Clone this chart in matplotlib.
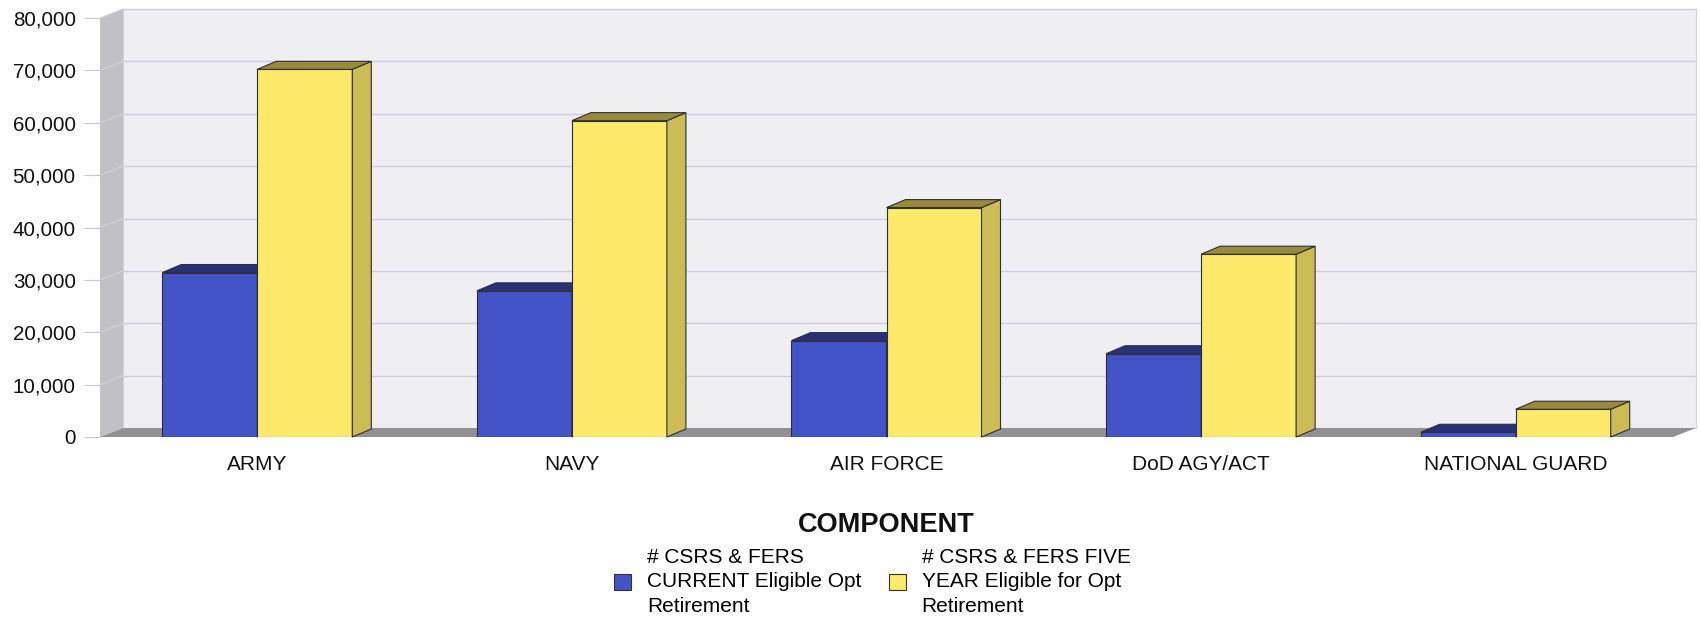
import matplotlib.pyplot as plt
from matplotlib.patches import Polygon, Patch

plt.rcParams['font.family'] = ['Liberation Sans', 'DejaVu Sans']

components = ["ARMY", "NAVY", "AIR FORCE", "DoD AGY/ACT", "NATIONAL GUARD"]
current_eligible = [31400, 27900, 18400, 15900, 900]
five_year_eligible = [70200, 60400, 43800, 34900, 5300]
series_labels = ["# CSRS & FERS\nCURRENT Eligible Opt\nRetirement",
                 "# CSRS & FERS FIVE\nYEAR Eligible for Opt\nRetirement"]
y_ticks = list(range(0, 80001, 10000))

blue, blue_top = '#4353c8', '#283078'
yellow, yellow_top, yellow_side = '#fde96a', '#9a8a3c', '#cbbc55'
edge = '#2e2e3a'

W, H = 1700, 617
fig = plt.figure(figsize=(W / 100, H / 100), dpi=100)
left, right, bottom, top = 100, 1673, 437, 18
ax = fig.add_axes([left / W, 1 - bottom / H, (right - left) / W, (bottom - top) / H])
ax.set_xlim(-0.5, len(components) - 0.5)
ax.set_ylim(0, 80000)

# pixel offsets -> data units for the fake 3d depth
px_x = len(components) / (right - left)
px_y = 80000 / (bottom - top)
wx, wy = 23 * px_x, 9 * px_y   # walls
bx, by = 19 * px_x, 8 * px_y   # bars

x0, x1, ymax = -0.5, len(components) - 0.5, 80000
ax.add_patch(Polygon([(x0 + wx, wy), (x1 + wx, wy), (x1 + wx, ymax + wy), (x0 + wx, ymax + wy)],
                     fc='#eeeef3', ec='#d4d4de', lw=0.8, clip_on=False, zorder=0))
ax.add_patch(Polygon([(x0, 0), (x0 + wx, wy), (x0 + wx, ymax + wy), (x0, ymax)],
                     fc='#c1c1c5', ec='none', clip_on=False, zorder=0.5))
ax.add_patch(Polygon([(x0, 0), (x1, 0), (x1 + wx, wy), (x0 + wx, wy)],
                     fc='#919194', ec='none', clip_on=False, zorder=0.5))
for v in y_ticks[1:]:
    ax.plot([x0 + wx, x1 + wx], [v + wy, v + wy], color='#cfcde0', lw=1, clip_on=False, zorder=0.6)
    ax.plot([x0, x0 + wx], [v, v + wy], color='#d2d2da', lw=0.8, clip_on=False, zorder=0.6)


def add_depth(bars, topc, sidec):
    for b in bars:
        x, w, h = b.get_x(), b.get_width(), b.get_height()
        z = b.get_zorder()
        ax.add_patch(Polygon([(x + w, 0), (x + w + bx, by), (x + w + bx, h + by), (x + w, h)],
                             fc=sidec, ec=edge, lw=0.8, zorder=z, clip_on=False))
        ax.add_patch(Polygon([(x, h), (x + w, h), (x + w + bx, h + by), (x + bx, h + by)],
                             fc=topc, ec=edge, lw=0.8, zorder=z, clip_on=False))


w = 0.302
xs = list(range(len(components)))
for i in xs:
    b1 = ax.bar([i - w], [current_eligible[i]], width=w, align='edge', color=blue,
                edgecolor=edge, lw=0.8, zorder=2 + i * 2)
    add_depth(b1, blue_top, blue_top)
    b2 = ax.bar([i], [five_year_eligible[i]], width=w, align='edge', color=yellow,
                edgecolor=edge, lw=0.8, zorder=3 + i * 2)
    add_depth(b2, yellow_top, yellow_side)

for s in ax.spines.values():
    s.set_visible(False)
ax.set_yticks(y_ticks, labels=[f"{v:,}" for v in y_ticks])
ax.tick_params(axis='y', length=11.5, color='#c8c8d8', pad=6, labelsize=14.8, labelcolor='#111111')
ax.set_xticks(xs, labels=components)
ax.tick_params(axis='x', length=0, pad=12.8, labelsize=15, labelcolor='#111111')

fig.text((left + right) / 2 / W, 1 - 532 / H, 'COMPONENT', ha='center', va='baseline',
         fontsize=19.5, fontweight='bold', color='#111111')

handles = [Patch(fc=blue, ec='#333333', lw=0.8), Patch(fc=yellow, ec='#333333', lw=0.8)]
leg = fig.legend(handles=handles, labels=series_labels, loc='upper left',
                 bbox_to_anchor=(614 / W, 1 - 548 / H), ncol=2, frameon=False, fontsize=15,
                 handlelength=0.82, handleheight=0.82, handletextpad=0.77, columnspacing=1.3,
                 borderpad=0, borderaxespad=0)
for t in leg.get_texts():
    t.set_linespacing(1.36)

fig.savefig('out.png', dpi=100)
